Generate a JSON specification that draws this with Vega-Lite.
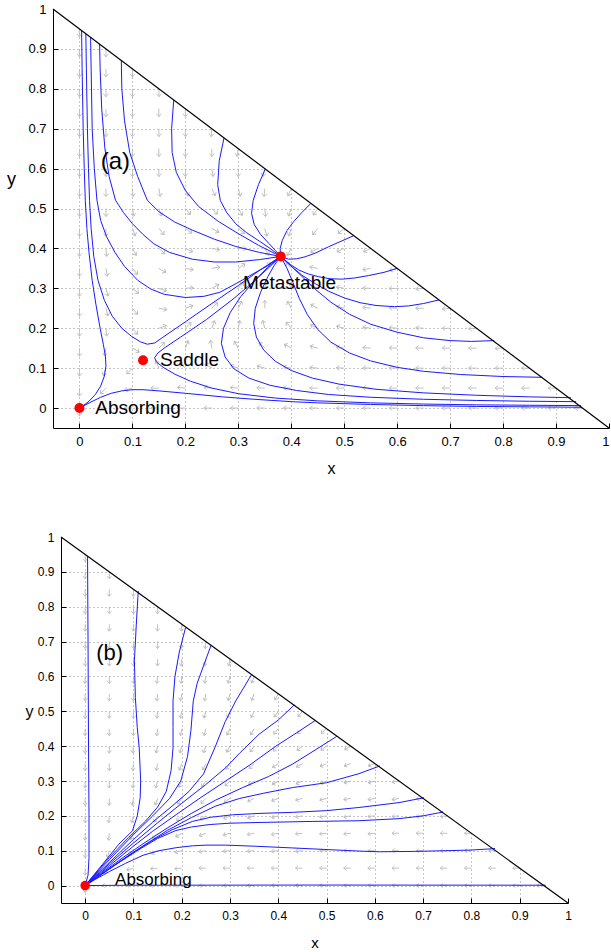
{
  "$schema": "https://vega.github.io/schema/vega-lite/v6.json",
  "padding": {"left": 6, "top": 3, "right": 0, "bottom": 0},
  "spacing": 55,
  "resolve": {"scale": {"x": "independent", "y": "independent"}},
  "config": {
    "view": {"stroke": null},
    "font": "Liberation Sans",
    "axis": {
      "domainColor": "#000", "domainWidth": 1, "tickColor": "#000", "tickSize": -5, "labelPadding": 12,
      "labelColor": "#000", "titleColor": "#000", "titleFontWeight": "normal", "grid": true,
      "gridColor": "#8c8c8c", "gridDash": [1, 3], "gridWidth": 1, "labelFlush": false, "labelOverlap": false,
      "labelFont": "Liberation Sans", "titleFont": "Liberation Sans"
    }
  },
  "datasets": {
    "hyp": [{"x": -0.05, "y": 1}, {"x": 1, "y": -0.05}],
    "fixA": [{"x": 0, "y": 0}, {"x": 0.12, "y": 0.12}, {"x": 0.38, "y": 0.38}],
    "fixB": [{"x": 0, "y": 0}],
    "labA": [{"x": 0.03, "y": 0.0, "t": "Absorbing"}, {"x": 0.152, "y": 0.12, "t": "Saddle"}, {"x": 0.309, "y": 0.313, "t": "Metastable"}],
    "tagA": [{"x": 0.04, "y": 0.617, "t": "(a)"}],
    "labB": [{"x": 0.062, "y": 0.015, "t": "Absorbing"}],
    "tagB": [{"x": 0.023, "y": 0.668, "t": "(b)"}],
    "trajA": [
      {"id":"a1","x":0.004,"y":0.946},{"id":"a1","x":0.005,"y":0.85},{"id":"a1","x":0.007,"y":0.7},{"id":"a1","x":0.009,"y":0.6},{"id":"a1","x":0.011,"y":0.52},{"id":"a1","x":0.014,"y":0.45},{"id":"a1","x":0.018,"y":0.39},{"id":"a1","x":0.024,"y":0.32},{"id":"a1","x":0.031,"y":0.26},{"id":"a1","x":0.039,"y":0.2},{"id":"a1","x":0.045,"y":0.16},{"id":"a1","x":0.049,"y":0.13},{"id":"a1","x":0.05,"y":0.105},{"id":"a1","x":0.047,"y":0.08},{"id":"a1","x":0.04,"y":0.055},{"id":"a1","x":0.03,"y":0.034},{"id":"a1","x":0.018,"y":0.017},{"id":"a1","x":0.007,"y":0.006},{"id":"a1","x":0,"y":0},
      {"id":"a2","x":0.012,"y":0.938},{"id":"a2","x":0.013,"y":0.85},{"id":"a2","x":0.015,"y":0.7},{"id":"a2","x":0.017,"y":0.6},{"id":"a2","x":0.019,"y":0.52},{"id":"a2","x":0.022,"y":0.45},{"id":"a2","x":0.027,"y":0.38},{"id":"a2","x":0.035,"y":0.32},{"id":"a2","x":0.047,"y":0.27},{"id":"a2","x":0.062,"y":0.23},{"id":"a2","x":0.08,"y":0.2},{"id":"a2","x":0.098,"y":0.18},{"id":"a2","x":0.115,"y":0.166},{"id":"a2","x":0.128,"y":0.16},{"id":"a2","x":0.142,"y":0.163},{"id":"a2","x":0.156,"y":0.176},{"id":"a2","x":0.2,"y":0.216},{"id":"a2","x":0.25,"y":0.262},{"id":"a2","x":0.3,"y":0.307},{"id":"a2","x":0.34,"y":0.345},{"id":"a2","x":0.38,"y":0.38},
      {"id":"a3","x":0.021,"y":0.929},{"id":"a3","x":0.022,"y":0.85},{"id":"a3","x":0.024,"y":0.7},{"id":"a3","x":0.028,"y":0.6},{"id":"a3","x":0.033,"y":0.521},{"id":"a3","x":0.04,"y":0.47},{"id":"a3","x":0.051,"y":0.43},{"id":"a3","x":0.067,"y":0.39},{"id":"a3","x":0.085,"y":0.355},{"id":"a3","x":0.11,"y":0.32},{"id":"a3","x":0.135,"y":0.298},{"id":"a3","x":0.16,"y":0.285},{"id":"a3","x":0.2,"y":0.277},{"id":"a3","x":0.235,"y":0.28},{"id":"a3","x":0.265,"y":0.29},{"id":"a3","x":0.3,"y":0.315},{"id":"a3","x":0.33,"y":0.338},{"id":"a3","x":0.357,"y":0.358},{"id":"a3","x":0.38,"y":0.38},
      {"id":"a4","x":0.038,"y":0.912},{"id":"a4","x":0.039,"y":0.85},{"id":"a4","x":0.042,"y":0.75},{"id":"a4","x":0.048,"y":0.65},{"id":"a4","x":0.056,"y":0.58},{"id":"a4","x":0.068,"y":0.521},{"id":"a4","x":0.083,"y":0.49},{"id":"a4","x":0.1,"y":0.462},{"id":"a4","x":0.12,"y":0.435},{"id":"a4","x":0.14,"y":0.412},{"id":"a4","x":0.17,"y":0.39},{"id":"a4","x":0.213,"y":0.373},{"id":"a4","x":0.255,"y":0.366},{"id":"a4","x":0.295,"y":0.366},{"id":"a4","x":0.34,"y":0.372},{"id":"a4","x":0.38,"y":0.38},
      {"id":"a5","x":0.079,"y":0.871},{"id":"a5","x":0.08,"y":0.8},{"id":"a5","x":0.085,"y":0.72},{"id":"a5","x":0.095,"y":0.64},{"id":"a5","x":0.11,"y":0.58},{"id":"a5","x":0.128,"y":0.521},{"id":"a5","x":0.15,"y":0.492},{"id":"a5","x":0.18,"y":0.466},{"id":"a5","x":0.213,"y":0.446},{"id":"a5","x":0.255,"y":0.423},{"id":"a5","x":0.295,"y":0.405},{"id":"a5","x":0.34,"y":0.39},{"id":"a5","x":0.38,"y":0.38},
      {"id":"a6","x":0.178,"y":0.772},{"id":"a6","x":0.174,"y":0.7},{"id":"a6","x":0.175,"y":0.64},{"id":"a6","x":0.183,"y":0.59},{"id":"a6","x":0.2,"y":0.545},{"id":"a6","x":0.225,"y":0.505},{"id":"a6","x":0.262,"y":0.468},{"id":"a6","x":0.3,"y":0.437},{"id":"a6","x":0.338,"y":0.408},{"id":"a6","x":0.38,"y":0.38},
      {"id":"a7","x":0.273,"y":0.677},{"id":"a7","x":0.264,"y":0.62},{"id":"a7","x":0.261,"y":0.56},{"id":"a7","x":0.266,"y":0.52},{"id":"a7","x":0.278,"y":0.49},{"id":"a7","x":0.295,"y":0.462},{"id":"a7","x":0.315,"y":0.44},{"id":"a7","x":0.34,"y":0.418},{"id":"a7","x":0.36,"y":0.4},{"id":"a7","x":0.38,"y":0.38},
      {"id":"a8","x":0.351,"y":0.599},{"id":"a8","x":0.338,"y":0.56},{"id":"a8","x":0.328,"y":0.52},{"id":"a8","x":0.325,"y":0.488},{"id":"a8","x":0.33,"y":0.46},{"id":"a8","x":0.342,"y":0.435},{"id":"a8","x":0.358,"y":0.412},{"id":"a8","x":0.37,"y":0.395},{"id":"a8","x":0.38,"y":0.38},
      {"id":"a9","x":0.437,"y":0.513},{"id":"a9","x":0.42,"y":0.49},{"id":"a9","x":0.405,"y":0.468},{"id":"a9","x":0.392,"y":0.445},{"id":"a9","x":0.383,"y":0.42},{"id":"a9","x":0.379,"y":0.4},{"id":"a9","x":0.38,"y":0.38},
      {"id":"a10","x":0.518,"y":0.432},{"id":"a10","x":0.47,"y":0.404},{"id":"a10","x":0.445,"y":0.388},{"id":"a10","x":0.426,"y":0.379},{"id":"a10","x":0.41,"y":0.374},{"id":"a10","x":0.395,"y":0.373},{"id":"a10","x":0.38,"y":0.38},
      {"id":"a11","x":0.6,"y":0.35},{"id":"a11","x":0.575,"y":0.34},{"id":"a11","x":0.546,"y":0.332},{"id":"a11","x":0.52,"y":0.326},{"id":"a11","x":0.496,"y":0.323},{"id":"a11","x":0.473,"y":0.324},{"id":"a11","x":0.452,"y":0.329},{"id":"a11","x":0.432,"y":0.336},{"id":"a11","x":0.414,"y":0.346},{"id":"a11","x":0.398,"y":0.36},{"id":"a11","x":0.38,"y":0.38},
      {"id":"a12","x":0.679,"y":0.271},{"id":"a12","x":0.65,"y":0.262},{"id":"a12","x":0.622,"y":0.256},{"id":"a12","x":0.595,"y":0.254},{"id":"a12","x":0.56,"y":0.257},{"id":"a12","x":0.53,"y":0.264},{"id":"a12","x":0.5,"y":0.276},{"id":"a12","x":0.47,"y":0.293},{"id":"a12","x":0.445,"y":0.312},{"id":"a12","x":0.42,"y":0.333},{"id":"a12","x":0.4,"y":0.355},{"id":"a12","x":0.38,"y":0.38},
      {"id":"a13","x":0.783,"y":0.169},{"id":"a13","x":0.74,"y":0.167},{"id":"a13","x":0.7,"y":0.169},{"id":"a13","x":0.65,"y":0.176},{"id":"a13","x":0.6,"y":0.19},{"id":"a13","x":0.55,"y":0.21},{"id":"a13","x":0.51,"y":0.235},{"id":"a13","x":0.475,"y":0.265},{"id":"a13","x":0.445,"y":0.298},{"id":"a13","x":0.42,"y":0.33},{"id":"a13","x":0.398,"y":0.358},{"id":"a13","x":0.38,"y":0.38},
      {"id":"a14","x":0.874,"y":0.077},{"id":"a14","x":0.8,"y":0.079},{"id":"a14","x":0.72,"y":0.084},{"id":"a14","x":0.65,"y":0.092},{"id":"a14","x":0.6,"y":0.102},{"id":"a14","x":0.55,"y":0.118},{"id":"a14","x":0.51,"y":0.138},{"id":"a14","x":0.475,"y":0.165},{"id":"a14","x":0.45,"y":0.197},{"id":"a14","x":0.43,"y":0.235},{"id":"a14","x":0.415,"y":0.275},{"id":"a14","x":0.403,"y":0.315},{"id":"a14","x":0.392,"y":0.35},{"id":"a14","x":0.38,"y":0.38},
      {"id":"a15","x":0.928,"y":0.026},{"id":"a15","x":0.85,"y":0.028},{"id":"a15","x":0.75,"y":0.032},{"id":"a15","x":0.65,"y":0.038},{"id":"a15","x":0.56,"y":0.047},{"id":"a15","x":0.49,"y":0.06},{"id":"a15","x":0.44,"y":0.075},{"id":"a15","x":0.4,"y":0.094},{"id":"a15","x":0.37,"y":0.117},{"id":"a15","x":0.348,"y":0.145},{"id":"a15","x":0.334,"y":0.178},{"id":"a15","x":0.329,"y":0.212},{"id":"a15","x":0.332,"y":0.25},{"id":"a15","x":0.342,"y":0.29},{"id":"a15","x":0.356,"y":0.33},{"id":"a15","x":0.368,"y":0.358},{"id":"a15","x":0.38,"y":0.38},
      {"id":"a16","x":0.938,"y":0.016},{"id":"a16","x":0.85,"y":0.017},{"id":"a16","x":0.75,"y":0.019},{"id":"a16","x":0.65,"y":0.022},{"id":"a16","x":0.55,"y":0.027},{"id":"a16","x":0.47,"y":0.034},{"id":"a16","x":0.41,"y":0.044},{"id":"a16","x":0.36,"y":0.057},{"id":"a16","x":0.32,"y":0.075},{"id":"a16","x":0.292,"y":0.098},{"id":"a16","x":0.275,"y":0.128},{"id":"a16","x":0.268,"y":0.162},{"id":"a16","x":0.272,"y":0.2},{"id":"a16","x":0.285,"y":0.24},{"id":"a16","x":0.305,"y":0.28},{"id":"a16","x":0.33,"y":0.318},{"id":"a16","x":0.355,"y":0.352},{"id":"a16","x":0.38,"y":0.38},
      {"id":"a17","x":0.947,"y":0.006},{"id":"a17","x":0.85,"y":0.007},{"id":"a17","x":0.75,"y":0.008},{"id":"a17","x":0.65,"y":0.01},{"id":"a17","x":0.55,"y":0.013},{"id":"a17","x":0.45,"y":0.018},{"id":"a17","x":0.37,"y":0.025},{"id":"a17","x":0.3,"y":0.036},{"id":"a17","x":0.25,"y":0.05},{"id":"a17","x":0.21,"y":0.067},{"id":"a17","x":0.18,"y":0.085},{"id":"a17","x":0.158,"y":0.102},{"id":"a17","x":0.145,"y":0.116},{"id":"a17","x":0.142,"y":0.126},{"id":"a17","x":0.148,"y":0.138},{"id":"a17","x":0.162,"y":0.152},{"id":"a17","x":0.19,"y":0.177},{"id":"a17","x":0.24,"y":0.222},{"id":"a17","x":0.29,"y":0.273},{"id":"a17","x":0.33,"y":0.318},{"id":"a17","x":0.36,"y":0.355},{"id":"a17","x":0.38,"y":0.38},
      {"id":"a18","x":0.949,"y":0.002},{"id":"a18","x":0.85,"y":0.003},{"id":"a18","x":0.75,"y":0.004},{"id":"a18","x":0.65,"y":0.006},{"id":"a18","x":0.55,"y":0.009},{"id":"a18","x":0.45,"y":0.013},{"id":"a18","x":0.4,"y":0.016},{"id":"a18","x":0.33,"y":0.022},{"id":"a18","x":0.27,"y":0.028},{"id":"a18","x":0.2,"y":0.037},{"id":"a18","x":0.15,"y":0.043},{"id":"a18","x":0.12,"y":0.046},{"id":"a18","x":0.1,"y":0.046},{"id":"a18","x":0.08,"y":0.043},{"id":"a18","x":0.06,"y":0.037},{"id":"a18","x":0.04,"y":0.027},{"id":"a18","x":0.02,"y":0.014},{"id":"a18","x":0,"y":0}
    ],
    "trajB": [
      {"id":"b1","x":0.005,"y":0.945},{"id":"b1","x":0.006,"y":0.7},{"id":"b1","x":0.007,"y":0.4},{"id":"b1","x":0.008,"y":0.2},{"id":"b1","x":0.008,"y":0.08},{"id":"b1","x":0.006,"y":0.03},{"id":"b1","x":0,"y":0},
      {"id":"b2","x":0.11,"y":0.845},{"id":"b2","x":0.106,"y":0.75},{"id":"b2","x":0.102,"y":0.645},{"id":"b2","x":0.104,"y":0.539},{"id":"b2","x":0.108,"y":0.453},{"id":"b2","x":0.112,"y":0.395},{"id":"b2","x":0.115,"y":0.3},{"id":"b2","x":0.114,"y":0.252},{"id":"b2","x":0.108,"y":0.2},{"id":"b2","x":0.098,"y":0.157},{"id":"b2","x":0.07,"y":0.119},{"id":"b2","x":0.036,"y":0.061},{"id":"b2","x":0,"y":0},
      {"id":"b3","x":0.208,"y":0.74},{"id":"b3","x":0.195,"y":0.67},{"id":"b3","x":0.186,"y":0.6},{"id":"b3","x":0.182,"y":0.53},{"id":"b3","x":0.182,"y":0.453},{"id":"b3","x":0.182,"y":0.395},{"id":"b3","x":0.178,"y":0.33},{"id":"b3","x":0.168,"y":0.27},{"id":"b3","x":0.15,"y":0.225},{"id":"b3","x":0.125,"y":0.185},{"id":"b3","x":0.09,"y":0.138},{"id":"b3","x":0.05,"y":0.08},{"id":"b3","x":0,"y":0},
      {"id":"b4","x":0.261,"y":0.69},{"id":"b4","x":0.245,"y":0.63},{"id":"b4","x":0.232,"y":0.58},{"id":"b4","x":0.224,"y":0.53},{"id":"b4","x":0.219,"y":0.444},{"id":"b4","x":0.212,"y":0.37},{"id":"b4","x":0.198,"y":0.3},{"id":"b4","x":0.175,"y":0.25},{"id":"b4","x":0.14,"y":0.2},{"id":"b4","x":0.1,"y":0.146},{"id":"b4","x":0.05,"y":0.074},{"id":"b4","x":0,"y":0},
      {"id":"b5","x":0.345,"y":0.606},{"id":"b5","x":0.312,"y":0.53},{"id":"b5","x":0.29,"y":0.47},{"id":"b5","x":0.27,"y":0.4},{"id":"b5","x":0.245,"y":0.32},{"id":"b5","x":0.215,"y":0.27},{"id":"b5","x":0.18,"y":0.228},{"id":"b5","x":0.14,"y":0.182},{"id":"b5","x":0.1,"y":0.132},{"id":"b5","x":0.05,"y":0.066},{"id":"b5","x":0,"y":0},
      {"id":"b6","x":0.433,"y":0.518},{"id":"b6","x":0.4,"y":0.475},{"id":"b6","x":0.36,"y":0.434},{"id":"b6","x":0.32,"y":0.38},{"id":"b6","x":0.291,"y":0.338},{"id":"b6","x":0.25,"y":0.29},{"id":"b6","x":0.2,"y":0.236},{"id":"b6","x":0.15,"y":0.18},{"id":"b6","x":0.1,"y":0.122},{"id":"b6","x":0.05,"y":0.062},{"id":"b6","x":0,"y":0},
      {"id":"b7","x":0.477,"y":0.474},{"id":"b7","x":0.44,"y":0.44},{"id":"b7","x":0.395,"y":0.4},{"id":"b7","x":0.34,"y":0.345},{"id":"b7","x":0.291,"y":0.3},{"id":"b7","x":0.24,"y":0.253},{"id":"b7","x":0.19,"y":0.205},{"id":"b7","x":0.14,"y":0.156},{"id":"b7","x":0.1,"y":0.113},{"id":"b7","x":0.05,"y":0.057},{"id":"b7","x":0,"y":0},
      {"id":"b8","x":0.521,"y":0.428},{"id":"b8","x":0.48,"y":0.392},{"id":"b8","x":0.429,"y":0.348},{"id":"b8","x":0.38,"y":0.313},{"id":"b8","x":0.326,"y":0.281},{"id":"b8","x":0.27,"y":0.245},{"id":"b8","x":0.22,"y":0.207},{"id":"b8","x":0.17,"y":0.165},{"id":"b8","x":0.12,"y":0.12},{"id":"b8","x":0.08,"y":0.082},{"id":"b8","x":0.04,"y":0.042},{"id":"b8","x":0,"y":0},
      {"id":"b9","x":0.61,"y":0.343},{"id":"b9","x":0.567,"y":0.321},{"id":"b9","x":0.5,"y":0.295},{"id":"b9","x":0.429,"y":0.281},{"id":"b9","x":0.37,"y":0.265},{"id":"b9","x":0.32,"y":0.25},{"id":"b9","x":0.27,"y":0.228},{"id":"b9","x":0.22,"y":0.195},{"id":"b9","x":0.17,"y":0.158},{"id":"b9","x":0.12,"y":0.114},{"id":"b9","x":0.08,"y":0.077},{"id":"b9","x":0.04,"y":0.039},{"id":"b9","x":0,"y":0},
      {"id":"b10","x":0.702,"y":0.252},{"id":"b10","x":0.65,"y":0.238},{"id":"b10","x":0.567,"y":0.224},{"id":"b10","x":0.5,"y":0.215},{"id":"b10","x":0.429,"y":0.21},{"id":"b10","x":0.36,"y":0.207},{"id":"b10","x":0.305,"y":0.203},{"id":"b10","x":0.26,"y":0.196},{"id":"b10","x":0.222,"y":0.184},{"id":"b10","x":0.18,"y":0.16},{"id":"b10","x":0.14,"y":0.13},{"id":"b10","x":0.1,"y":0.095},{"id":"b10","x":0.05,"y":0.048},{"id":"b10","x":0,"y":0},
      {"id":"b11","x":0.741,"y":0.211},{"id":"b11","x":0.7,"y":0.2},{"id":"b11","x":0.65,"y":0.192},{"id":"b11","x":0.567,"y":0.186},{"id":"b11","x":0.47,"y":0.184},{"id":"b11","x":0.36,"y":0.181},{"id":"b11","x":0.3,"y":0.179},{"id":"b11","x":0.257,"y":0.175},{"id":"b11","x":0.22,"y":0.168},{"id":"b11","x":0.188,"y":0.158},{"id":"b11","x":0.15,"y":0.135},{"id":"b11","x":0.11,"y":0.102},{"id":"b11","x":0.07,"y":0.066},{"id":"b11","x":0.035,"y":0.033},{"id":"b11","x":0,"y":0},
      {"id":"b12","x":0.849,"y":0.106},{"id":"b12","x":0.8,"y":0.102},{"id":"b12","x":0.747,"y":0.1},{"id":"b12","x":0.68,"y":0.098},{"id":"b12","x":0.609,"y":0.097},{"id":"b12","x":0.567,"y":0.099},{"id":"b12","x":0.505,"y":0.103},{"id":"b12","x":0.429,"y":0.108},{"id":"b12","x":0.35,"y":0.113},{"id":"b12","x":0.291,"y":0.116},{"id":"b12","x":0.25,"y":0.116},{"id":"b12","x":0.222,"y":0.114},{"id":"b12","x":0.19,"y":0.109},{"id":"b12","x":0.153,"y":0.1},{"id":"b12","x":0.12,"y":0.087},{"id":"b12","x":0.084,"y":0.064},{"id":"b12","x":0.05,"y":0.04},{"id":"b12","x":0.02,"y":0.017},{"id":"b12","x":0,"y":0},
      {"id":"b13","x":0.954,"y":0.001},{"id":"b13","x":0.5,"y":0.0015},{"id":"b13","x":0.1,"y":0.001},{"id":"b13","x":0,"y":0}
    ],
    "arrA": [
      {"x":0,"y":0,"a":0},{"x":0,"y":0.05,"a":0},{"x":0,"y":0.1,"a":0},{"x":0,"y":0.15,"a":0},{"x":0,"y":0.2,"a":0},{"x":0,"y":0.25,"a":0},{"x":0,"y":0.3,"a":0},{"x":0,"y":0.35,"a":0},{"x":0,"y":0.4,"a":0},{"x":0,"y":0.45,"a":0},{"x":0,"y":0.5,"a":0},{"x":0,"y":0.55,"a":0},{"x":0,"y":0.6,"a":0},{"x":0,"y":0.65,"a":0},{"x":0,"y":0.7,"a":0},{"x":0,"y":0.75,"a":0},{"x":0,"y":0.8,"a":0},{"x":0,"y":0.85,"a":0},{"x":0,"y":0.9,"a":0},{"x":0,"y":0.95,"a":0},
      {"x":0.05,"y":0,"a":90},{"x":0.05,"y":0.05,"a":45},{"x":0.05,"y":0.1,"a":20},{"x":0.05,"y":0.15,"a":10},{"x":0.05,"y":0.2,"a":355},{"x":0.05,"y":0.25,"a":345},{"x":0.05,"y":0.3,"a":345},{"x":0.05,"y":0.35,"a":350},{"x":0.05,"y":0.4,"a":355},{"x":0.05,"y":0.45,"a":0},{"x":0.05,"y":0.5,"a":0},{"x":0.05,"y":0.55,"a":0},{"x":0.05,"y":0.6,"a":0},{"x":0.05,"y":0.65,"a":0},{"x":0.05,"y":0.7,"a":0},{"x":0.05,"y":0.75,"a":0},{"x":0.05,"y":0.8,"a":0},{"x":0.05,"y":0.85,"a":0},{"x":0.05,"y":0.9,"a":0},
      {"x":0.1,"y":0,"a":90},{"x":0.1,"y":0.05,"a":75},{"x":0.1,"y":0.1,"a":45},{"x":0.1,"y":0.15,"a":300},{"x":0.1,"y":0.2,"a":320},{"x":0.1,"y":0.25,"a":320},{"x":0.1,"y":0.3,"a":310},{"x":0.1,"y":0.35,"a":320},{"x":0.1,"y":0.4,"a":330},{"x":0.1,"y":0.45,"a":340},{"x":0.1,"y":0.5,"a":350},{"x":0.1,"y":0.55,"a":355},{"x":0.1,"y":0.6,"a":0},{"x":0.1,"y":0.65,"a":0},{"x":0.1,"y":0.7,"a":0},{"x":0.1,"y":0.75,"a":0},{"x":0.1,"y":0.8,"a":0},{"x":0.1,"y":0.85,"a":0},
      {"x":0.15,"y":0,"a":90},{"x":0.15,"y":0.05,"a":90},{"x":0.15,"y":0.1,"a":160},{"x":0.15,"y":0.15,"a":225},{"x":0.15,"y":0.2,"a":250},{"x":0.15,"y":0.25,"a":280},{"x":0.15,"y":0.3,"a":290},{"x":0.15,"y":0.35,"a":300},{"x":0.15,"y":0.4,"a":310},{"x":0.15,"y":0.45,"a":320},{"x":0.15,"y":0.5,"a":340},{"x":0.15,"y":0.55,"a":350},{"x":0.15,"y":0.6,"a":0},{"x":0.15,"y":0.65,"a":0},{"x":0.15,"y":0.7,"a":0},{"x":0.15,"y":0.75,"a":0},{"x":0.15,"y":0.8,"a":0},
      {"x":0.2,"y":0,"a":90},{"x":0.2,"y":0.05,"a":95},{"x":0.2,"y":0.1,"a":130},{"x":0.2,"y":0.15,"a":200},{"x":0.2,"y":0.2,"a":225},{"x":0.2,"y":0.25,"a":250},{"x":0.2,"y":0.3,"a":265},{"x":0.2,"y":0.35,"a":280},{"x":0.2,"y":0.4,"a":295},{"x":0.2,"y":0.45,"a":305},{"x":0.2,"y":0.5,"a":320},{"x":0.2,"y":0.55,"a":340},{"x":0.2,"y":0.6,"a":0},{"x":0.2,"y":0.65,"a":0},{"x":0.2,"y":0.7,"a":0},{"x":0.2,"y":0.75,"a":0},
      {"x":0.25,"y":0,"a":90},{"x":0.25,"y":0.05,"a":95},{"x":0.25,"y":0.1,"a":120},{"x":0.25,"y":0.15,"a":170},{"x":0.25,"y":0.2,"a":200},{"x":0.25,"y":0.25,"a":225},{"x":0.25,"y":0.3,"a":240},{"x":0.25,"y":0.35,"a":260},{"x":0.25,"y":0.4,"a":280},{"x":0.25,"y":0.45,"a":300},{"x":0.25,"y":0.5,"a":315},{"x":0.25,"y":0.55,"a":335},{"x":0.25,"y":0.6,"a":350},{"x":0.25,"y":0.65,"a":0},{"x":0.25,"y":0.7,"a":5},
      {"x":0.3,"y":0,"a":90},{"x":0.3,"y":0.05,"a":95},{"x":0.3,"y":0.1,"a":110},{"x":0.3,"y":0.15,"a":150},{"x":0.3,"y":0.2,"a":190},{"x":0.3,"y":0.25,"a":205},{"x":0.3,"y":0.3,"a":220},{"x":0.3,"y":0.35,"a":235},{"x":0.3,"y":0.4,"a":270},{"x":0.3,"y":0.45,"a":310},{"x":0.3,"y":0.5,"a":330},{"x":0.3,"y":0.55,"a":345},{"x":0.3,"y":0.6,"a":0},{"x":0.3,"y":0.65,"a":10},
      {"x":0.35,"y":0,"a":90},{"x":0.35,"y":0.05,"a":92},{"x":0.35,"y":0.1,"a":105},{"x":0.35,"y":0.15,"a":135},{"x":0.35,"y":0.2,"a":165},{"x":0.35,"y":0.25,"a":180},{"x":0.35,"y":0.3,"a":195},{"x":0.35,"y":0.35,"a":225},{"x":0.35,"y":0.4,"a":330},{"x":0.35,"y":0.45,"a":345},{"x":0.35,"y":0.5,"a":355},{"x":0.35,"y":0.55,"a":5},{"x":0.35,"y":0.6,"a":15},
      {"x":0.4,"y":0,"a":90},{"x":0.4,"y":0.05,"a":92},{"x":0.4,"y":0.1,"a":100},{"x":0.4,"y":0.15,"a":120},{"x":0.4,"y":0.2,"a":140},{"x":0.4,"y":0.25,"a":150},{"x":0.4,"y":0.3,"a":155},{"x":0.4,"y":0.35,"a":140},{"x":0.4,"y":0.4,"a":30},{"x":0.4,"y":0.45,"a":20},{"x":0.4,"y":0.5,"a":20},{"x":0.4,"y":0.55,"a":25},
      {"x":0.45,"y":0,"a":90},{"x":0.45,"y":0.05,"a":90},{"x":0.45,"y":0.1,"a":95},{"x":0.45,"y":0.15,"a":105},{"x":0.45,"y":0.2,"a":115},{"x":0.45,"y":0.25,"a":120},{"x":0.45,"y":0.3,"a":115},{"x":0.45,"y":0.35,"a":100},{"x":0.45,"y":0.4,"a":60},{"x":0.45,"y":0.45,"a":40},{"x":0.45,"y":0.5,"a":35},
      {"x":0.5,"y":0,"a":90},{"x":0.5,"y":0.05,"a":90},{"x":0.5,"y":0.1,"a":93},{"x":0.5,"y":0.15,"a":98},{"x":0.5,"y":0.2,"a":105},{"x":0.5,"y":0.25,"a":105},{"x":0.5,"y":0.3,"a":100},{"x":0.5,"y":0.35,"a":90},{"x":0.5,"y":0.4,"a":65},{"x":0.5,"y":0.45,"a":50},
      {"x":0.55,"y":0,"a":90},{"x":0.55,"y":0.05,"a":90},{"x":0.55,"y":0.1,"a":92},{"x":0.55,"y":0.15,"a":95},{"x":0.55,"y":0.2,"a":98},{"x":0.55,"y":0.25,"a":98},{"x":0.55,"y":0.3,"a":92},{"x":0.55,"y":0.35,"a":80},{"x":0.55,"y":0.4,"a":65},
      {"x":0.6,"y":0,"a":90},{"x":0.6,"y":0.05,"a":90},{"x":0.6,"y":0.1,"a":92},{"x":0.6,"y":0.15,"a":93},{"x":0.6,"y":0.2,"a":95},{"x":0.6,"y":0.25,"a":93},{"x":0.6,"y":0.3,"a":88},{"x":0.6,"y":0.35,"a":75},
      {"x":0.65,"y":0,"a":90},{"x":0.65,"y":0.05,"a":90},{"x":0.65,"y":0.1,"a":90},{"x":0.65,"y":0.15,"a":92},{"x":0.65,"y":0.2,"a":93},{"x":0.65,"y":0.25,"a":90},{"x":0.65,"y":0.3,"a":85},
      {"x":0.7,"y":0,"a":90},{"x":0.7,"y":0.05,"a":90},{"x":0.7,"y":0.1,"a":90},{"x":0.7,"y":0.15,"a":91},{"x":0.7,"y":0.2,"a":90},{"x":0.7,"y":0.25,"a":85},
      {"x":0.75,"y":0,"a":90},{"x":0.75,"y":0.05,"a":90},{"x":0.75,"y":0.1,"a":90},{"x":0.75,"y":0.15,"a":90},{"x":0.75,"y":0.2,"a":87},
      {"x":0.8,"y":0,"a":90},{"x":0.8,"y":0.05,"a":90},{"x":0.8,"y":0.1,"a":90},{"x":0.8,"y":0.15,"a":88},
      {"x":0.85,"y":0,"a":90},{"x":0.85,"y":0.05,"a":90},{"x":0.85,"y":0.1,"a":90},
      {"x":0.9,"y":0,"a":90},{"x":0.9,"y":0.05,"a":90},
      {"x":0.95,"y":0,"a":90}
    ],
    "arrB": [
      {"x":0,"y":0,"a":0},{"x":0,"y":0.05,"a":0},{"x":0,"y":0.1,"a":0},{"x":0,"y":0.15,"a":0},{"x":0,"y":0.2,"a":0},{"x":0,"y":0.25,"a":0},{"x":0,"y":0.3,"a":0},{"x":0,"y":0.35,"a":0},{"x":0,"y":0.4,"a":0},{"x":0,"y":0.45,"a":0},{"x":0,"y":0.5,"a":0},{"x":0,"y":0.55,"a":0},{"x":0,"y":0.6,"a":0},{"x":0,"y":0.65,"a":0},{"x":0,"y":0.7,"a":0},{"x":0,"y":0.75,"a":0},{"x":0,"y":0.8,"a":0},{"x":0,"y":0.85,"a":0},{"x":0,"y":0.9,"a":0},{"x":0,"y":0.95,"a":0},
      {"x":0.05,"y":0,"a":90},{"x":0.05,"y":0.05,"a":45},{"x":0.05,"y":0.1,"a":15},{"x":0.05,"y":0.15,"a":5},{"x":0.05,"y":0.2,"a":5},{"x":0.05,"y":0.25,"a":0},{"x":0.05,"y":0.3,"a":0},{"x":0.05,"y":0.35,"a":0},{"x":0.05,"y":0.4,"a":0},{"x":0.05,"y":0.45,"a":0},{"x":0.05,"y":0.5,"a":0},{"x":0.05,"y":0.55,"a":0},{"x":0.05,"y":0.6,"a":0},{"x":0.05,"y":0.65,"a":0},{"x":0.05,"y":0.7,"a":0},{"x":0.05,"y":0.75,"a":0},{"x":0.05,"y":0.8,"a":0},{"x":0.05,"y":0.85,"a":0},{"x":0.05,"y":0.9,"a":0},
      {"x":0.1,"y":0,"a":90},{"x":0.1,"y":0.05,"a":75},{"x":0.1,"y":0.1,"a":45},{"x":0.1,"y":0.15,"a":25},{"x":0.1,"y":0.2,"a":15},{"x":0.1,"y":0.25,"a":10},{"x":0.1,"y":0.3,"a":5},{"x":0.1,"y":0.35,"a":5},{"x":0.1,"y":0.4,"a":5},{"x":0.1,"y":0.45,"a":0},{"x":0.1,"y":0.5,"a":0},{"x":0.1,"y":0.55,"a":0},{"x":0.1,"y":0.6,"a":0},{"x":0.1,"y":0.65,"a":0},{"x":0.1,"y":0.7,"a":0},{"x":0.1,"y":0.75,"a":0},{"x":0.1,"y":0.8,"a":0},{"x":0.1,"y":0.85,"a":0},
      {"x":0.15,"y":0,"a":90},{"x":0.15,"y":0.05,"a":85},{"x":0.15,"y":0.1,"a":65},{"x":0.15,"y":0.15,"a":45},{"x":0.15,"y":0.2,"a":30},{"x":0.15,"y":0.25,"a":20},{"x":0.15,"y":0.3,"a":15},{"x":0.15,"y":0.35,"a":10},{"x":0.15,"y":0.4,"a":10},{"x":0.15,"y":0.45,"a":5},{"x":0.15,"y":0.5,"a":5},{"x":0.15,"y":0.55,"a":5},{"x":0.15,"y":0.6,"a":5},{"x":0.15,"y":0.65,"a":0},{"x":0.15,"y":0.7,"a":0},{"x":0.15,"y":0.75,"a":0},{"x":0.15,"y":0.8,"a":0},
      {"x":0.2,"y":0,"a":90},{"x":0.2,"y":0.05,"a":85},{"x":0.2,"y":0.1,"a":75},{"x":0.2,"y":0.15,"a":60},{"x":0.2,"y":0.2,"a":45},{"x":0.2,"y":0.25,"a":35},{"x":0.2,"y":0.3,"a":25},{"x":0.2,"y":0.35,"a":20},{"x":0.2,"y":0.4,"a":15},{"x":0.2,"y":0.45,"a":10},{"x":0.2,"y":0.5,"a":10},{"x":0.2,"y":0.55,"a":10},{"x":0.2,"y":0.6,"a":5},{"x":0.2,"y":0.65,"a":5},{"x":0.2,"y":0.7,"a":5},{"x":0.2,"y":0.75,"a":5},
      {"x":0.25,"y":0,"a":90},{"x":0.25,"y":0.05,"a":90},{"x":0.25,"y":0.1,"a":80},{"x":0.25,"y":0.15,"a":70},{"x":0.25,"y":0.2,"a":55},{"x":0.25,"y":0.25,"a":45},{"x":0.25,"y":0.3,"a":35},{"x":0.25,"y":0.35,"a":25},{"x":0.25,"y":0.4,"a":20},{"x":0.25,"y":0.45,"a":15},{"x":0.25,"y":0.5,"a":15},{"x":0.25,"y":0.55,"a":10},{"x":0.25,"y":0.6,"a":10},{"x":0.25,"y":0.65,"a":10},{"x":0.25,"y":0.7,"a":5},
      {"x":0.3,"y":0,"a":90},{"x":0.3,"y":0.05,"a":90},{"x":0.3,"y":0.1,"a":85},{"x":0.3,"y":0.15,"a":75},{"x":0.3,"y":0.2,"a":65},{"x":0.3,"y":0.25,"a":55},{"x":0.3,"y":0.3,"a":45},{"x":0.3,"y":0.35,"a":35},{"x":0.3,"y":0.4,"a":30},{"x":0.3,"y":0.45,"a":25},{"x":0.3,"y":0.5,"a":20},{"x":0.3,"y":0.55,"a":15},{"x":0.3,"y":0.6,"a":15},{"x":0.3,"y":0.65,"a":10},
      {"x":0.35,"y":0,"a":90},{"x":0.35,"y":0.05,"a":90},{"x":0.35,"y":0.1,"a":85},{"x":0.35,"y":0.15,"a":80},{"x":0.35,"y":0.2,"a":70},{"x":0.35,"y":0.25,"a":65},{"x":0.35,"y":0.3,"a":55},{"x":0.35,"y":0.35,"a":45},{"x":0.35,"y":0.4,"a":35},{"x":0.35,"y":0.45,"a":30},{"x":0.35,"y":0.5,"a":25},{"x":0.35,"y":0.55,"a":20},{"x":0.35,"y":0.6,"a":20},
      {"x":0.4,"y":0,"a":90},{"x":0.4,"y":0.05,"a":90},{"x":0.4,"y":0.1,"a":85},{"x":0.4,"y":0.15,"a":80},{"x":0.4,"y":0.2,"a":75},{"x":0.4,"y":0.25,"a":70},{"x":0.4,"y":0.3,"a":60},{"x":0.4,"y":0.35,"a":55},{"x":0.4,"y":0.4,"a":45},{"x":0.4,"y":0.45,"a":40},{"x":0.4,"y":0.5,"a":35},{"x":0.4,"y":0.55,"a":30},
      {"x":0.45,"y":0,"a":90},{"x":0.45,"y":0.05,"a":90},{"x":0.45,"y":0.1,"a":85},{"x":0.45,"y":0.15,"a":85},{"x":0.45,"y":0.2,"a":80},{"x":0.45,"y":0.25,"a":75},{"x":0.45,"y":0.3,"a":65},{"x":0.45,"y":0.35,"a":60},{"x":0.45,"y":0.4,"a":50},{"x":0.45,"y":0.45,"a":45},{"x":0.45,"y":0.5,"a":40},
      {"x":0.5,"y":0,"a":90},{"x":0.5,"y":0.05,"a":90},{"x":0.5,"y":0.1,"a":90},{"x":0.5,"y":0.15,"a":85},{"x":0.5,"y":0.2,"a":80},{"x":0.5,"y":0.25,"a":75},{"x":0.5,"y":0.3,"a":70},{"x":0.5,"y":0.35,"a":65},{"x":0.5,"y":0.4,"a":55},{"x":0.5,"y":0.45,"a":50},
      {"x":0.55,"y":0,"a":90},{"x":0.55,"y":0.05,"a":90},{"x":0.55,"y":0.1,"a":90},{"x":0.55,"y":0.15,"a":85},{"x":0.55,"y":0.2,"a":80},{"x":0.55,"y":0.25,"a":80},{"x":0.55,"y":0.3,"a":75},{"x":0.55,"y":0.35,"a":70},{"x":0.55,"y":0.4,"a":60},
      {"x":0.6,"y":0,"a":90},{"x":0.6,"y":0.05,"a":90},{"x":0.6,"y":0.1,"a":90},{"x":0.6,"y":0.15,"a":85},{"x":0.6,"y":0.2,"a":85},{"x":0.6,"y":0.25,"a":80},{"x":0.6,"y":0.3,"a":75},{"x":0.6,"y":0.35,"a":70},
      {"x":0.65,"y":0,"a":90},{"x":0.65,"y":0.05,"a":90},{"x":0.65,"y":0.1,"a":90},{"x":0.65,"y":0.15,"a":90},{"x":0.65,"y":0.2,"a":85},{"x":0.65,"y":0.25,"a":80},{"x":0.65,"y":0.3,"a":80},
      {"x":0.7,"y":0,"a":90},{"x":0.7,"y":0.05,"a":90},{"x":0.7,"y":0.1,"a":90},{"x":0.7,"y":0.15,"a":90},{"x":0.7,"y":0.2,"a":85},{"x":0.7,"y":0.25,"a":85},
      {"x":0.75,"y":0,"a":90},{"x":0.75,"y":0.05,"a":90},{"x":0.75,"y":0.1,"a":90},{"x":0.75,"y":0.15,"a":90},{"x":0.75,"y":0.2,"a":85},
      {"x":0.8,"y":0,"a":90},{"x":0.8,"y":0.05,"a":90},{"x":0.8,"y":0.1,"a":90},{"x":0.8,"y":0.15,"a":90},
      {"x":0.85,"y":0,"a":90},{"x":0.85,"y":0.05,"a":90},{"x":0.85,"y":0.1,"a":90},
      {"x":0.9,"y":0,"a":90},{"x":0.9,"y":0.05,"a":90},
      {"x":0.95,"y":0,"a":90}
    ]
  },
  "vconcat": [
    {
      "width": 556,
      "height": 419,
      "encoding": {
        "x": {"field": "x", "type": "quantitative", "scale": {"domain": [-0.05, 1], "nice": false, "zero": false},
              "axis": {"values": [0,0.1,0.2,0.3,0.4,0.5,0.6,0.7,0.8,0.9,1], "format": "~g", "title": "x", "titleFontSize": 16, "labelFontSize": 13, "titlePadding": 12, "labelFlush": true,
                       "gridOpacity": {"condition": {"test": "datum.value >= 0.99", "value": 0}, "value": 1}}},
        "y": {"field": "y", "type": "quantitative", "scale": {"domain": [-0.05, 1], "nice": false, "zero": false},
              "axis": {"values": [0,0.1,0.2,0.3,0.4,0.5,0.6,0.7,0.8,0.9,1], "format": "~g", "title": "y", "titleAngle": 0, "titleX": -42, "titleY": 170, "titleAlign": "center", "titleBaseline": "middle", "titleFontSize": 18, "labelFontSize": 13,
                       "gridOpacity": {"condition": {"test": "datum.value >= 0.99", "value": 0}, "value": 1}}}
      },
      "layer": [
        {"data": {"name": "hyp"}, "mark": {"type": "area", "fill": "white", "opacity": 1, "fillOpacity": 1}, "encoding": {"y2": {"datum": 1}}},
        {"data": {"name": "arrA"}, "mark": {"type": "point", "shape": "M0,0L0,2M-0.6,1.25L0,2L0.6,1.25", "filled": false, "stroke": "#bcbcbc", "strokeWidth": 0.9, "size": 64, "opacity": 1},
         "encoding": {"angle": {"field": "a", "type": "quantitative", "scale": null}}},
        {"data": {"name": "trajA"}, "mark": {"type": "line", "color": "#1a1aff", "strokeWidth": 1},
         "encoding": {"detail": {"field": "id"}, "order": {"value": null}}},
        {"data": {"name": "hyp"}, "mark": {"type": "line", "color": "#000", "strokeWidth": 1.2}, "encoding": {}},
        {"data": {"name": "fixA"}, "mark": {"type": "point", "filled": true, "color": "#ff0000", "size": 100, "opacity": 1}},
        {"data": {"name": "labA"}, "mark": {"type": "text", "align": "left", "baseline": "middle", "fontSize": 19, "color": "#000"}, "encoding": {"text": {"field": "t"}}},
        {"data": {"name": "tagA"}, "mark": {"type": "text", "align": "left", "baseline": "middle", "fontSize": 24, "color": "#000"}, "encoding": {"text": {"field": "t"}}}
      ]
    },
    {
      "spacing": 0,
      "bounds": "flush",
      "resolve": {"scale": {"x": "independent", "y": "independent"}},
      "hconcat": [
        {"width": 8, "height": 366, "data": {"values": []}, "mark": "point"},
        {
          "width": 507,
          "height": 366,
          "encoding": {
            "x": {"field": "x", "type": "quantitative", "scale": {"domain": [-0.05, 1], "nice": false, "zero": false},
                  "axis": {"values": [0,0.1,0.2,0.3,0.4,0.5,0.6,0.7,0.8,0.9,1], "format": "~g", "title": "x", "titleFontSize": 15, "labelFontSize": 12, "titlePadding": 14,
                           "gridOpacity": {"condition": {"test": "datum.value >= 0.99", "value": 0}, "value": 1}}},
            "y": {"field": "y", "type": "quantitative", "scale": {"domain": [-0.05, 1], "nice": false, "zero": false},
                  "axis": {"values": [0,0.1,0.2,0.3,0.4,0.5,0.6,0.7,0.8,0.9,1], "format": "~g", "title": "y", "titleAngle": 0, "titleX": -32, "titleY": 174, "titleAlign": "center", "titleBaseline": "middle", "titleFontSize": 16, "labelFontSize": 12,
                           "gridOpacity": {"condition": {"test": "datum.value >= 0.99", "value": 0}, "value": 1}}}
          },
          "layer": [
            {"data": {"name": "hyp"}, "mark": {"type": "area", "fill": "white", "opacity": 1, "fillOpacity": 1}, "encoding": {"y2": {"datum": 1}}},
            {"data": {"name": "arrB"}, "mark": {"type": "point", "shape": "M0,0L0,2M-0.6,1.25L0,2L0.6,1.25", "filled": false, "stroke": "#bcbcbc", "strokeWidth": 0.9, "size": 49, "opacity": 1},
             "encoding": {"angle": {"field": "a", "type": "quantitative", "scale": null}}},
            {"data": {"name": "trajB"}, "mark": {"type": "line", "color": "#1a1aff", "strokeWidth": 1},
             "encoding": {"detail": {"field": "id"}, "order": {"value": null}}},
            {"data": {"name": "hyp"}, "mark": {"type": "line", "color": "#000", "strokeWidth": 1.2}, "encoding": {}},
            {"data": {"name": "fixB"}, "mark": {"type": "point", "filled": true, "color": "#ff0000", "size": 90, "opacity": 1}},
            {"data": {"name": "labB"}, "mark": {"type": "text", "align": "left", "baseline": "middle", "fontSize": 17, "color": "#000"}, "encoding": {"text": {"field": "t"}}},
            {"data": {"name": "tagB"}, "mark": {"type": "text", "align": "left", "baseline": "middle", "fontSize": 22, "color": "#000"}, "encoding": {"text": {"field": "t"}}}
          ]
        }
      ]
    }
  ]
}
